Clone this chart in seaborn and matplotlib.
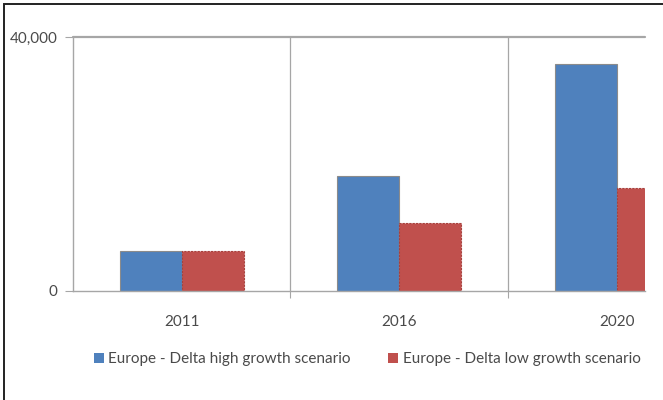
import matplotlib
matplotlib.use("Agg")
import matplotlib.pyplot as plt
import matplotlib.patches as mpatches
import seaborn as sns
import pandas as pd

years = ["2011", "2016", "2020"]
high_growth = [6300, 18100, 35700]
low_growth = [6300, 10700, 16200]
series_names = ["Europe - Delta high growth scenario", "Europe - Delta low growth scenario"]
y_ticks = [0, 40000]
y_tick_labels = ["0", "40,000"]

colors = ["#4F81BD", "#C0504D"]
edge_colors = ["#8B8B8B", "#A8403C"]
text_color = "#4A4A4A"
grid_color = "#A6A6A6"

df = pd.DataFrame({
    "year": years * 2,
    "value": high_growth + low_growth,
    "series": [series_names[0]] * len(years) + [series_names[1]] * len(years),
})

sns.set_theme(style="white")
plt.rcParams["font.family"] = ["Lato", "DejaVu Sans"]

fig = plt.figure(figsize=(6.63, 4.0), dpi=100)
ax = fig.add_axes([73 / 663, 1 - 291 / 400, (645 - 73) / 663, (291 - 37) / 400])

sns.barplot(data=df, x="year", y="value", hue="series", palette=colors,
            width=0.57, ax=ax, legend=False, saturation=1)

# bar edges: thin grey on the high-growth series, dashed darker red on the low-growth one
for container, ec, ls in zip(ax.containers, edge_colors, ["-", (0, (2, 1))]):
    for bar in container:
        bar.set_edgecolor(ec)
        bar.set_linewidth(0.8)
        bar.set_linestyle(ls)

ax.set_xlim(-0.5, 2.13)
ax.set_ylim(0, 40000)
ax.set_xlabel("")
ax.set_ylabel("")

# y axis
ax.set_yticks(y_ticks)
ax.set_yticklabels(y_tick_labels)
ax.tick_params(axis="y", length=6, width=0.8, color=grid_color, labelsize=11,
               labelcolor=text_color, pad=5, left=True)

# x axis: boundary tick marks, labels centred under each category
ax.set_xticks([0.5, 1.5])
ax.set_xticklabels([])
ax.set_xticks([0, 1, 2], minor=True)
ax.set_xticklabels(years, minor=True)
ax.tick_params(axis="x", which="major", length=5, width=0.8, color=grid_color, bottom=True)
ax.tick_params(axis="x", which="minor", length=0, labelsize=11, labelcolor=text_color, pad=17)

# category separators and top gridline
for xv in [0.5, 1.5]:
    ax.axvline(xv, color=grid_color, lw=0.9, zorder=0)
ax.axhline(40000, color=grid_color, lw=1.6, zorder=0, clip_on=False)

for side in ["top", "right"]:
    ax.spines[side].set_visible(False)
for side in ["left", "bottom"]:
    ax.spines[side].set_color(grid_color)
    ax.spines[side].set_linewidth(1.0)

handles = [mpatches.Patch(facecolor=c, edgecolor="none", label=n) for c, n in zip(colors, series_names)]
fig.legend(handles=handles, loc="center", bbox_to_anchor=(367 / 663, 1 - 359 / 400), ncol=2,
           frameon=False, fontsize=11, handlelength=0.65, handleheight=0.65, handletextpad=0.3,
           columnspacing=2.45, labelcolor=text_color, borderaxespad=0, borderpad=0)

# outer frame (top and left edges visible)
fig.add_artist(mpatches.Rectangle((4 / 663, -0.1), 1.2, 1 - 4 / 400 + 0.1, transform=fig.transFigure,
                                  fill=False, edgecolor="#222222", lw=1.4))

fig.savefig("out.png", dpi=100, facecolor="white")
